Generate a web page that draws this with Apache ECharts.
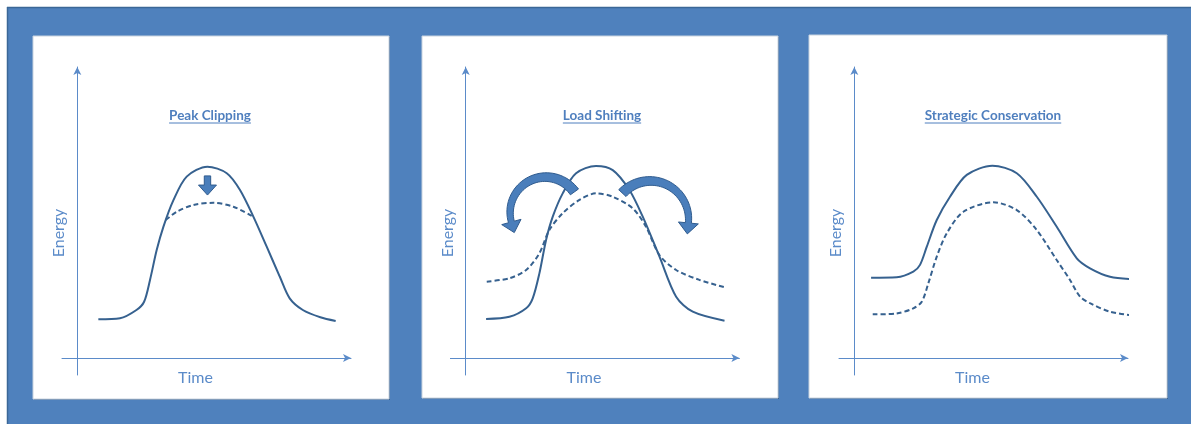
<!DOCTYPE html>
<html><head><meta charset="utf-8">
<script src="https://cdn.jsdelivr.net/npm/echarts@6/dist/echarts.min.js"></script>
<style>html,body{margin:0;padding:0;background:#fff}#c{width:1191px;height:424px}</style>
</head><body><div id="c"></div>
<script>
// ---- text ----
const panelTitles = ['Peak Clipping', 'Load Shifting', 'Strategic Conservation'];
const xAxisName = 'Time';
const yAxisName = 'Energy';
const timeRange = [-1.4, 25];
const energyRange = [-7, 120];

// ---- Panel 1: Peak Clipping ----
const clipTime    = [1.92, 3.9, 5.4, 6.1, 6.64, 7.25, 7.86, 8.77, 9.99, 11.88, 13.65, 14.86, 16.08, 17.3, 18.5, 19.4, 20.6, 22.2, 23.6];
const clipBase    = [16.0, 16.4, 19.8, 23.2, 32.2, 44.5, 54.1, 65.0, 74.8, 78.9, 76.2, 69.3, 58.3, 45.9, 33.5, 24.6, 19.8, 16.8, 15.3];
const clipTimeDashed = [8.07, 9.08, 10.6, 12.42, 14.25, 15.93];
const clipReduced    = [56.9, 60.3, 63.1, 64.0, 62.4, 58.6];
const clipArrow = [11.89, 75.1, 67.2]; // time, top energy, tip energy

// ---- Panel 2: Load Shifting ----
const shiftTime = [1.86, 3.99, 5.52, 6.12, 6.73, 7.34, 7.95, 8.86, 10.08, 11.9, 13.43, 14.95, 16.17, 17.7, 19.22, 20.74, 23.64];
const shiftBase = [16.1, 17.0, 20.5, 24.6, 34.9, 48.7, 58.3, 67.9, 76.2, 79.2, 77.5, 69.3, 58.3, 41.8, 25.3, 19.1, 15.4];
const shiftTimeDashed = [1.92, 3.99, 5.52, 6.73, 7.64, 8.86, 10.39, 11.91, 13.43, 15.26, 16.47, 17.69, 19.22, 21.35, 23.64];
const shiftShifted    = [31.5, 32.9, 36.3, 43.2, 52.8, 59.7, 65.2, 67.9, 66.5, 61.7, 54.1, 42.5, 36.3, 32.2, 29.2];
// tail (t,e), apex (t,e), head (t,e)
const shiftArrows = [
  [9.93, 68.5, 7.19, 74.6, 4.17, 56.1],
  [14.31, 68.0, 16.96, 73.0, 20.34, 55.7]
];

// ---- Panel 3: Strategic Conservation ----
const consTime = [1.53, 3.87, 5.39, 6.0, 6.62, 7.53, 8.74, 10.27, 12.61, 14.84, 16.67, 18.49, 20.32, 21.53, 23.36, 25.55];
const consBase = [33.1, 33.3, 35.6, 38.4, 45.9, 56.9, 66.5, 75.5, 79.3, 76.2, 66.5, 54.1, 41.1, 37.0, 33.5, 32.5];
const consTimeDashed = [1.68, 3.87, 5.39, 6.16, 6.76, 7.53, 8.44, 9.96, 12.7, 14.84, 16.66, 18.49, 19.7, 20.62, 21.53, 23.36, 25.7];
const consReduced    = [18.0, 18.4, 20.5, 23.2, 30.8, 41.8, 51.4, 60.3, 64.2, 61.0, 52.8, 40.4, 32.2, 25.3, 22.6, 19.1, 17.4];

// ---- styles / layout ----
const FONT = 'Lato, "Open Sans", sans-serif';
const BG_BLUE = '#4F81BD';
const AXIS_COLOR = '#5B8BC9';
const CURVE_COLOR = '#36618F';
const ARROW_FILL = '#4A7EBB';
const ARROW_STROKE = '#2F5B8E';
const TITLE_COLOR = '#4F7FBE';
const gridLefts = [62, 450.4, 839];
const panels = [
  {x: 33, y: 36, w: 356, h: 363},
  {x: 422, y: 36, w: 356, h: 362},
  {x: 809, y: 35, w: 358, h: 363}
];
const titleCx = [210, 602, 993];
const titleCy = 116;

const zip = (a, b) => a.map((v, i) => [v, b[i]]);

function measure(text, font) {
  const c = document.createElement('canvas').getContext('2d');
  c.font = font;
  return c.measureText(text).width;
}

const chart = echarts.init(document.getElementById('c'), null, {renderer: 'canvas'});

const grids = [], xAxes = [], yAxes = [];
for (let i = 0; i < 3; i++) {
  grids.push({left: gridLefts[i], top: 67, width: 289, height: 308, containLabel: false});
  xAxes.push({
    gridIndex: i, type: 'value', min: timeRange[0], max: timeRange[1],
    axisLine: {onZero: true, symbol: ['none', 'arrow'], symbolSize: [6, 8], lineStyle: {color: AXIS_COLOR, width: 1}},
    axisTick: {show: false}, axisLabel: {show: false}, splitLine: {show: false},
    name: xAxisName, nameLocation: 'middle', nameGap: -5,
    nameTextStyle: {color: AXIS_COLOR, fontSize: 16, fontFamily: FONT, padding: [0, 22, 0, 0]}
  });
  yAxes.push({
    gridIndex: i, type: 'value', min: energyRange[0], max: energyRange[1],
    axisLine: {onZero: true, symbol: ['none', 'arrow'], symbolSize: [6, 8], lineStyle: {color: AXIS_COLOR, width: 1}},
    axisTick: {show: false}, axisLabel: {show: false}, splitLine: {show: false},
    name: yAxisName, nameLocation: 'middle', nameGap: -5, nameRotate: 90,
    nameTextStyle: {color: AXIS_COLOR, fontSize: 16, fontFamily: FONT, padding: [0, 24, 0, 0]}
  });
}

function lineSeries(i, data, dashed) {
  return {
    type: 'line', xAxisIndex: i, yAxisIndex: i, data: data,
    smooth: 0.3, showSymbol: false, symbol: 'none', clip: false, silent: true,
    lineStyle: {color: CURVE_COLOR, width: 2, type: dashed ? [5, 3] : 'solid'},
    z: 3
  };
}

function downArrow(params, api) {
  const top = api.coord([api.value(0), api.value(1)]);
  const tip = api.coord([api.value(0), api.value(2)]);
  const x = top[0], sw = 3.2, hw = 9, hl = 10;
  const pts = [[x - sw, top[1]], [x + sw, top[1]], [x + sw, tip[1] - hl], [x + hw, tip[1] - hl],
               [x, tip[1]], [x - hw, tip[1] - hl], [x - sw, tip[1] - hl]];
  return {type: 'polygon', shape: {points: pts}, style: {fill: ARROW_FILL, stroke: ARROW_STROKE, lineWidth: 1}};
}

function curvedArrow(params, api) {
  const p1 = api.coord([api.value(0), api.value(1)]);
  const p2 = api.coord([api.value(2), api.value(3)]);
  const p3 = api.coord([api.value(4), api.value(5)]);
  const ax = p1[0], ay = p1[1], bx = p2[0], by = p2[1], cx = p3[0], cy = p3[1];
  const d = 2 * (ax * (by - cy) + bx * (cy - ay) + cx * (ay - by));
  const ux = ((ax*ax + ay*ay) * (by - cy) + (bx*bx + by*by) * (cy - ay) + (cx*cx + cy*cy) * (ay - by)) / d;
  const uy = ((ax*ax + ay*ay) * (cx - bx) + (bx*bx + by*by) * (ax - cx) + (cx*cx + cy*cy) * (bx - ax)) / d;
  const r = Math.hypot(ax - ux, ay - uy);
  const a1 = Math.atan2(ay - uy, ax - ux), a2 = Math.atan2(by - uy, bx - ux), a3 = Math.atan2(cy - uy, cx - ux);
  const norm = a => { while (a > Math.PI) a -= 2 * Math.PI; while (a <= -Math.PI) a += 2 * Math.PI; return a; };
  const s = norm(a2 - a1) < 0 ? -1 : 1;
  let total = a3 - a1;
  if (s < 0) { while (total > 0) total -= 2 * Math.PI; } else { while (total < 0) total += 2 * Math.PI; }
  const N = 40, w0 = 10, w1 = 6, hw = 20, hl = 11;
  const outer = [], inner = [];
  for (let i = 0; i <= N; i++) {
    const f = i / N, th = a1 + total * f, w = w0 + (w1 - w0) * f;
    outer.push([ux + (r + w / 2) * Math.cos(th), uy + (r + w / 2) * Math.sin(th)]);
    inner.push([ux + (r - w / 2) * Math.cos(th), uy + (r - w / 2) * Math.sin(th)]);
  }
  const th = a1 + total;
  const ex = ux + r * Math.cos(th), ey = uy + r * Math.sin(th);
  const tx = s * (-Math.sin(th)), ty = s * Math.cos(th);
  const rx = Math.cos(th), ry = Math.sin(th);
  const tip = [ex + tx * hl, ey + ty * hl];
  const wingO = [ex + rx * hw / 2, ey + ry * hw / 2], wingI = [ex - rx * hw / 2, ey - ry * hw / 2];
  const pts = outer.concat([wingO, tip, wingI], inner.reverse());
  return {type: 'polygon', shape: {points: pts}, style: {fill: ARROW_FILL, stroke: ARROW_STROKE, lineWidth: 1}};
}

const series = [
  lineSeries(0, zip(clipTime, clipBase), false),
  lineSeries(0, zip(clipTimeDashed, clipReduced), true),
  {type: 'custom', xAxisIndex: 0, yAxisIndex: 0, data: [clipArrow], encode: {x: 0, y: [1, 2]}, renderItem: downArrow, silent: true, z: 4},
  lineSeries(1, zip(shiftTime, shiftBase), false),
  lineSeries(1, zip(shiftTimeDashed, shiftShifted), true),
  {type: 'custom', xAxisIndex: 1, yAxisIndex: 1, data: shiftArrows, encode: {x: [0, 2, 4], y: [1, 3, 5]}, renderItem: curvedArrow, silent: true, z: 4},
  lineSeries(2, zip(consTime, consBase), false),
  lineSeries(2, zip(consTimeDashed, consReduced), true)
];

const graphics = [
  {type: 'rect', z: -20, shape: {x: 7, y: 7, width: 1191, height: 424}, style: {fill: BG_BLUE}},
  {type: 'line', z: -19, shape: {x1: 7, y1: 7.5, x2: 1191, y2: 7.5}, style: {stroke: '#3B6797', lineWidth: 1.5}},
  {type: 'line', z: -19, shape: {x1: 7.5, y1: 7, x2: 7.5, y2: 424}, style: {stroke: '#3B6797', lineWidth: 1.5}}
];
const titleFont = 'bold 13.5px ' + FONT;
panels.forEach((p, i) => {
  graphics.push({type: 'rect', z: -18, shape: {x: p.x + 1, y: p.y + 1, width: p.w, height: p.h}, style: {fill: '#3A6594'}});
  graphics.push({type: 'rect', z: -17, shape: {x: p.x, y: p.y, width: p.w, height: p.h}, style: {fill: '#ffffff', stroke: '#C9D3DF', lineWidth: 1}});
  const w = measure(panelTitles[i], titleFont);
  graphics.push({type: 'text', z: 10, style: {text: panelTitles[i], x: titleCx[i], y: titleCy, align: 'center', verticalAlign: 'middle',
    fill: TITLE_COLOR, font: titleFont}});
  graphics.push({type: 'line', z: 10, shape: {x1: titleCx[i] - w / 2, y1: titleCy + 7, x2: titleCx[i] + w / 2, y2: titleCy + 7},
    style: {stroke: TITLE_COLOR, lineWidth: 1}});
});

chart.setOption({
  animation: false,
  backgroundColor: '#ffffff',
  grid: grids, xAxis: xAxes, yAxis: yAxes,
  graphic: {elements: graphics},
  series: series
});
</script></body></html>
